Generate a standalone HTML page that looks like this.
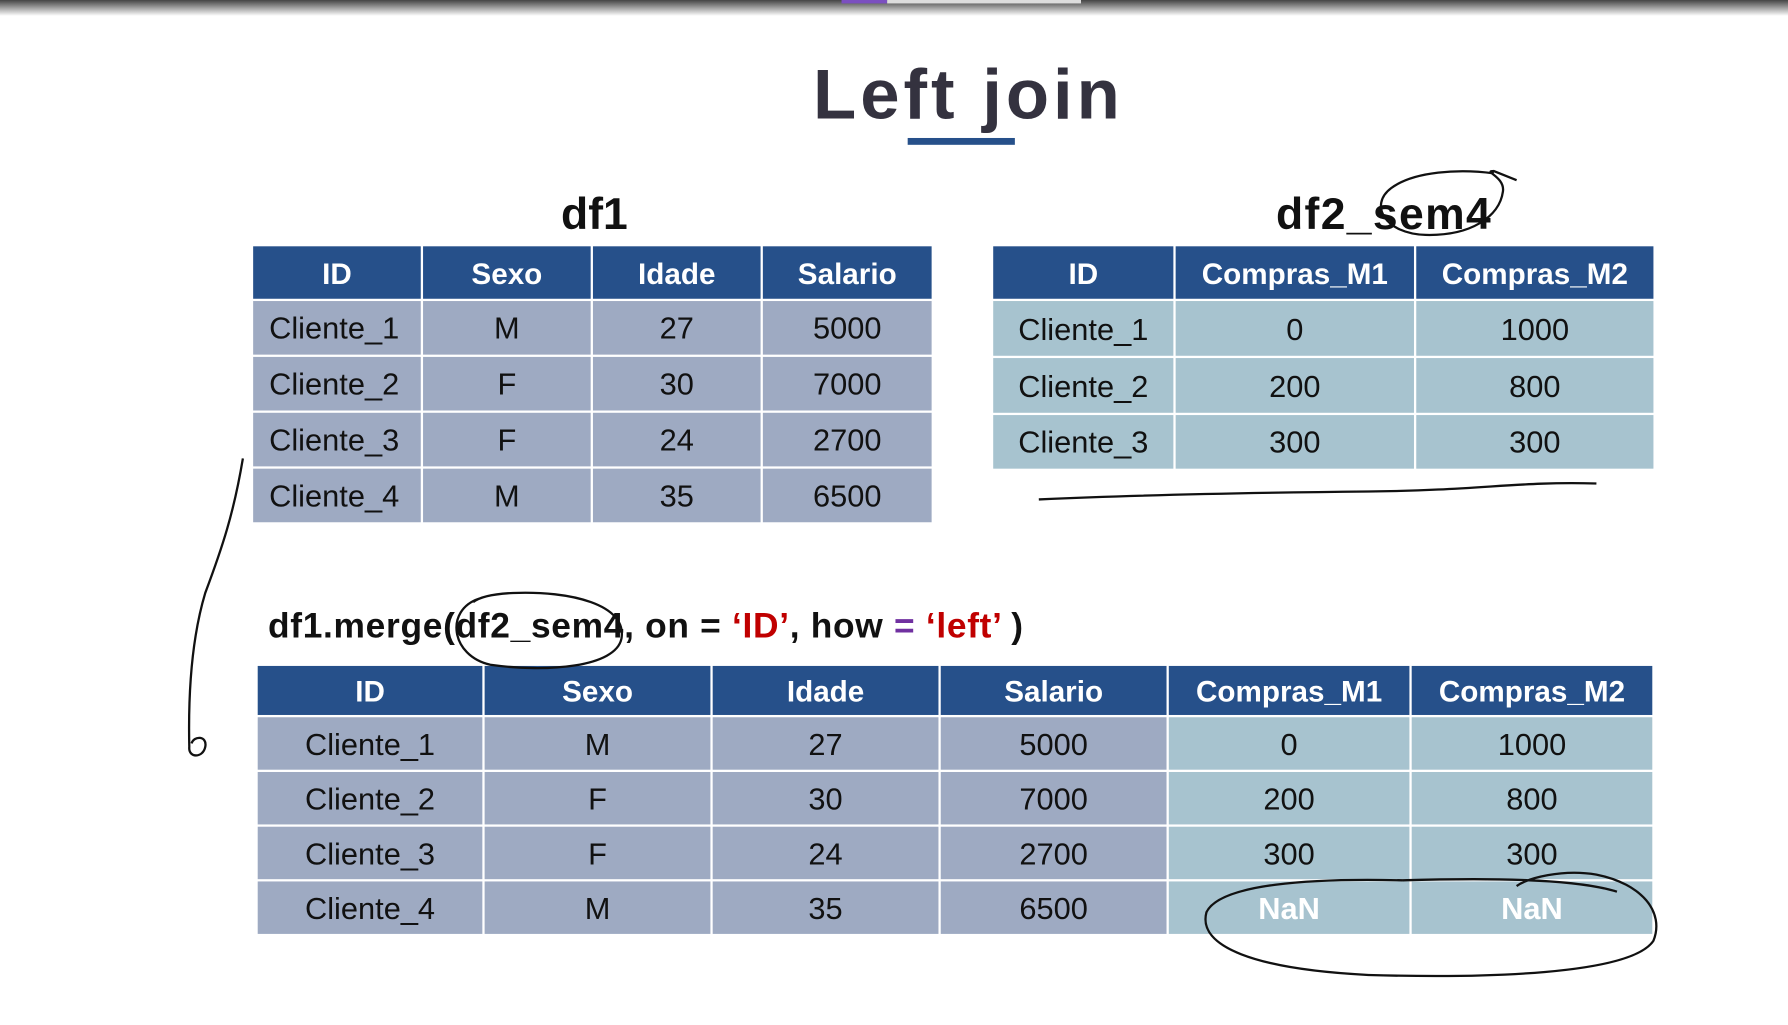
<!DOCTYPE html>
<html><head><meta charset="utf-8"><style>
html,body{margin:0;padding:0;background:#fff;overflow:hidden;width:1788px;height:1025px}
#w{position:absolute;left:0;top:0;width:1568px;height:899px;transform:scale(1.1403);transform-origin:0 0;font-family:"Liberation Sans",Arial,sans-serif}
.bar{position:absolute;left:0;top:0;width:1568px;height:14px;background:linear-gradient(#444,#fff)}
.t{position:absolute;border-collapse:separate;border-spacing:2px;margin:-2px}
.t td{padding:2px 0 0 0;text-align:center;font-size:27px;color:#111}
.t tr.h td{background:#26508a;color:#fff;font-weight:bold;font-size:26px}
.b{background:#9eaac2}.g{background:#a7c3cf}
.lbl{position:absolute;font-weight:bold;color:#111}
</style></head><body><div id="w">
<div class="bar"></div>
<div style="position:absolute;left:738px;top:0;width:40px;height:3px;background:#7b4fc0"></div>
<div style="position:absolute;left:778px;top:0;width:170px;height:3px;background:#ddd"></div>
<div class="lbl" style="left:713px;top:48px;font-size:62px;color:#34323f;letter-spacing:3.5px">Left join</div>
<div style="position:absolute;left:796px;top:121px;width:94px;height:6px;background:#26508a"></div>
<div class="lbl" style="left:492px;top:167px;font-size:39px">df1</div>
<div class="lbl" style="left:1119px;top:167px;font-size:39px;letter-spacing:1.2px">df2_sem4</div>

<table class="t" style="left:222px;top:216px">
<tr class="h" style="height:46px"><td style="width:147px">ID</td><td style="width:147px">Sexo</td><td style="width:147px">Idade</td><td style="width:148px">Salario</td></tr>
<tr style="height:47px"><td class="b" style="text-align:left;padding-left:14px">Cliente_1</td><td class="b">M</td><td class="b">27</td><td class="b">5000</td></tr>
<tr style="height:47px"><td class="b" style="text-align:left;padding-left:14px">Cliente_2</td><td class="b">F</td><td class="b">30</td><td class="b">7000</td></tr>
<tr style="height:47px"><td class="b" style="text-align:left;padding-left:14px">Cliente_3</td><td class="b">F</td><td class="b">24</td><td class="b">2700</td></tr>
<tr style="height:47px"><td class="b" style="text-align:left;padding-left:14px">Cliente_4</td><td class="b">M</td><td class="b">35</td><td class="b">6500</td></tr>
</table>

<table class="t" style="left:871px;top:216px">
<tr class="h" style="height:46px"><td style="width:158px">ID</td><td style="width:209px">Compras_M1</td><td style="width:208px">Compras_M2</td></tr>
<tr style="height:48px"><td class="g">Cliente_1</td><td class="g">0</td><td class="g">1000</td></tr>
<tr style="height:48px"><td class="g">Cliente_2</td><td class="g">200</td><td class="g">800</td></tr>
<tr style="height:47px"><td class="g">Cliente_3</td><td class="g">300</td><td class="g">300</td></tr>
</table>

<div class="lbl" style="left:235px;top:531px;font-size:31px;white-space:nowrap;letter-spacing:0.6px">df1.merge(df2_sem4, on = <span style="color:#c00000">‘ID’</span>, how <span style="color:#7030a0">=</span> <span style="color:#c00000">‘left’</span> )</div>

<table class="t" style="left:226px;top:584px">
<tr class="h" style="height:43px"><td style="width:197px">ID</td><td style="width:198px">Sexo</td><td style="width:198px">Idade</td><td style="width:198px">Salario</td><td style="width:211px">Compras_M1</td><td style="width:211px">Compras_M2</td></tr>
<tr style="height:46px"><td class="b">Cliente_1</td><td class="b">M</td><td class="b">27</td><td class="b">5000</td><td class="g">0</td><td class="g">1000</td></tr>
<tr style="height:46px"><td class="b">Cliente_2</td><td class="b">F</td><td class="b">30</td><td class="b">7000</td><td class="g">200</td><td class="g">800</td></tr>
<tr style="height:46px"><td class="b">Cliente_3</td><td class="b">F</td><td class="b">24</td><td class="b">2700</td><td class="g">300</td><td class="g">300</td></tr>
<tr style="height:46px"><td class="b">Cliente_4</td><td class="b">M</td><td class="b">35</td><td class="b">6500</td><td class="g" style="color:#fff;font-weight:bold">NaN</td><td class="g" style="color:#fff;font-weight:bold">NaN</td></tr>
</table>

<svg style="position:absolute;left:0;top:0" width="1568" height="899" fill="none" stroke="#111" stroke-width="2">
<path d="M1310 152 C1280 148 1240 150 1220 165 C1200 180 1215 205 1250 206 C1290 207 1315 190 1318 168 C1320 155 1300 150 1310 150 L1330 158"/>
<path d="M911 438 C1000 434 1100 432 1200 431 C1300 430 1330 422 1400 424"/>
<path d="M420 525 C390 535 395 575 430 583 C480 590 540 585 545 560 C550 530 500 518 450 520 C430 521 420 524 415 528"/>
<path d="M213 402 C205 450 195 480 180 520 C168 560 165 610 166 655 C165 665 178 665 180 655 C182 645 170 645 168 652"/>
<path d="M1230 772 C1150 770 1070 775 1058 800 C1050 830 1100 850 1200 855 C1300 858 1430 855 1450 825 C1460 800 1440 775 1400 767 C1370 762 1340 770 1330 777 M1418 782 C1380 770 1300 770 1230 772"/>
</svg>
</div></body></html>
